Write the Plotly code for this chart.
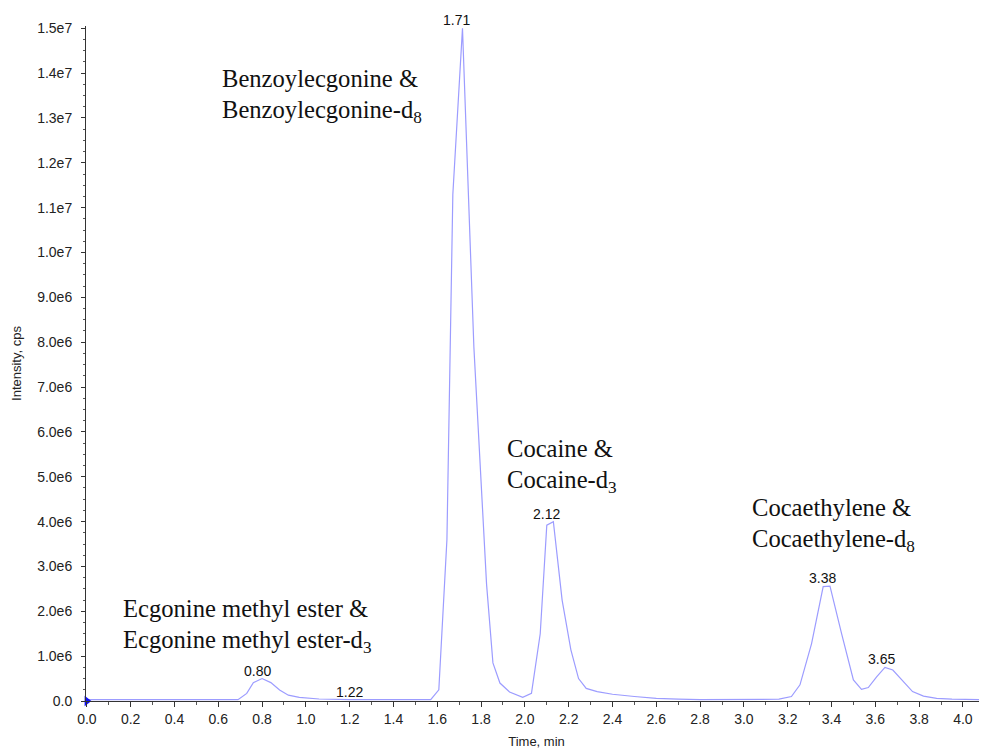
import plotly.graph_objects as go
import numpy as np

# Chromatogram trace (time in min, intensity in cps)
time_min = [0.00, 0.69, 0.73, 0.76, 0.80, 0.84, 0.88, 0.92, 0.97, 1.06, 1.20, 1.57,
            1.607, 1.644, 1.671, 1.715, 1.767, 1.825, 1.854, 1.886, 1.93, 1.99,
            2.03, 2.07, 2.10, 2.13, 2.17, 2.21, 2.245, 2.28, 2.33, 2.40, 2.50,
            2.60, 2.70, 2.80, 3.16, 3.217, 3.256, 3.309, 3.362, 3.393, 3.446,
            3.50, 3.537, 3.568, 3.606, 3.644, 3.68, 3.727, 3.77, 3.82, 3.88,
            3.95, 4.11]
intensity_cps = [0.03e6, 0.03e6, 0.17e6, 0.41e6, 0.50e6, 0.41e6, 0.245e6, 0.13e6,
                 0.08e6, 0.045e6, 0.03e6, 0.03e6,
                 0.25e6, 3.6e6, 11.3e6, 15.0e6, 7.9e6, 2.6e6, 0.85e6, 0.4e6,
                 0.2e6, 0.08e6,
                 0.17e6, 1.5e6, 3.92e6, 4.0e6, 2.25e6, 1.14e6, 0.5e6, 0.28e6,
                 0.21e6, 0.15e6, 0.10e6,
                 0.06e6, 0.04e6, 0.03e6, 0.04e6, 0.1e6, 0.36e6, 1.28e6, 2.55e6,
                 2.56e6, 1.5e6,
                 0.47e6, 0.26e6, 0.3e6, 0.54e6, 0.75e6, 0.69e6, 0.43e6, 0.21e6,
                 0.11e6, 0.06e6,
                 0.04e6, 0.03e6]

# Peak retention-time labels
peak_labels = ["0.80", "1.22", "1.71", "2.12", "3.38", "3.65"]

# Compound annotations (two lines each)
compound_line1 = ["Benzoylecgonine &", "Cocaine &", "Cocaethylene &", "Ecgonine methyl ester &"]
compound_line2 = ["Benzoylecgonine-d<sub>8</sub>", "Cocaine-d<sub>3</sub>",
                  "Cocaethylene-d<sub>8</sub>", "Ecgonine methyl ester-d<sub>3</sub>"]

# Axis ticks
y_tick_vals = [i * 1e6 for i in range(16)]
y_tick_text = ["0.0", "1.0e6", "2.0e6", "3.0e6", "4.0e6", "5.0e6", "6.0e6", "7.0e6",
               "8.0e6", "9.0e6", "1.0e7", "1.1e7", "1.2e7", "1.3e7", "1.4e7", "1.5e7"]
x_tick_vals = [round(0.2 * i, 1) for i in range(21)]
x_tick_text = [f"{v:.1f}" for v in x_tick_vals]

t_arr = np.array(time_min)
i_arr = np.array(intensity_cps)

fig = go.Figure()
fig.add_trace(go.Scatter(x=time_min, y=intensity_cps, mode="lines",
                         line=dict(color="#9c9cff", width=1.2), hoverinfo="x+y",
                         showlegend=False))
fig.add_trace(go.Scatter(x=[0], y=[0], mode="markers", cliponaxis=False,
                         marker=dict(symbol="triangle-right", color="#1010ff", size=9),
                         showlegend=False, hoverinfo="skip"))

annotations = []
for lab in peak_labels:
    pt = float(lab)
    mask = np.abs(t_arr - pt) <= 0.04
    top = i_arr[mask].max() if mask.any() else np.interp(pt, t_arr, i_arr)
    annotations.append(dict(x=pt, y=top, text=lab, showarrow=False, xanchor="center",
                            yanchor="bottom", xshift=-5, yshift=-2,
                            font=dict(family="Liberation Sans, Arial", size=14, color="#111")))

serif = dict(family="Liberation Serif, Times New Roman", size=24.6, color="#111")
# positions of the compound text blocks (left x in min, line centres in cps)
block_pos = [(0.616, 13.88e6, 13.14e6), (1.918, 5.64e6, 4.90e6),
             (3.037, 4.32e6, 3.58e6), (0.164, 2.07e6, 1.33e6)]
for (x0, y1, y2), l1, l2 in zip(block_pos, compound_line1, compound_line2):
    annotations.append(dict(x=x0, y=y1, text=l1, showarrow=False, xanchor="left",
                            yanchor="middle", xshift=-2, font=serif))
    annotations.append(dict(x=x0, y=y2, text=l2, showarrow=False, xanchor="left",
                            yanchor="middle", xshift=-2, font=serif))

fig.update_layout(
    width=987, height=750,
    margin=dict(l=78, r=8, t=18, b=57),
    paper_bgcolor="white", plot_bgcolor="white",
    annotations=annotations,
    font=dict(family="Liberation Sans, Arial", color="#222"),
)
fig.update_xaxes(range=[-0.004, 4.11], tickvals=x_tick_vals, ticktext=x_tick_text,
                 automargin=False,
                 showgrid=False, zeroline=False, showline=True, linecolor="#333", linewidth=1,
                 ticks="outside", ticklen=5, tickcolor="#333", tickfont=dict(size=14),
                 minor=dict(dtick=0.1, tick0=0, ticks="outside", ticklen=3, tickcolor="#555"),
                 title=dict(text="Time, min", font=dict(size=13), standoff=11))
fig.update_yaxes(range=[0, 1.505e7], tickvals=y_tick_vals, ticktext=y_tick_text,
                 automargin=False, ticklabelstandoff=6,
                 showgrid=False, zeroline=False, showline=True, linecolor="#333", linewidth=1,
                 ticks="outside", ticklen=4, tickcolor="#333", tickfont=dict(size=14),
                 minor=dict(dtick=2.5e5, tick0=0, ticks="outside", ticklen=2, tickcolor="#555"),
                 title=dict(text="Intensity, cps", font=dict(size=13), standoff=12))

fig.write_html("out.html")
